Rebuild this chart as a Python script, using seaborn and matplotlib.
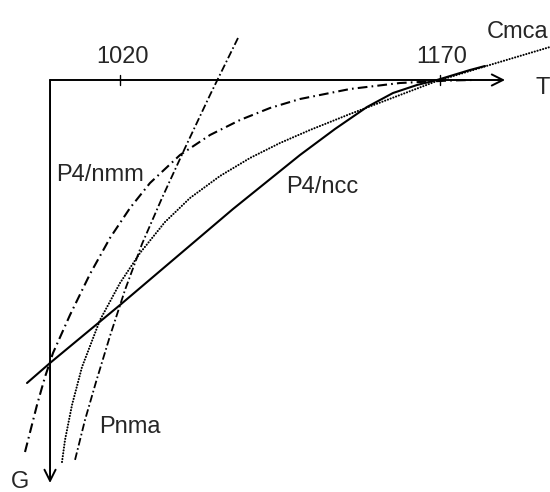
import matplotlib
matplotlib.use("Agg")
import matplotlib.pyplot as plt
import seaborn as sns
import pandas as pd

sns.set_theme(style="white")
plt.rcParams['font.family'] = ['Liberation Sans', 'DejaVu Sans']
plt.rcParams['lines.scale_dashes'] = False

# Schematic G(T) curves (T in K, G in arbitrary units, 0 on the T axis)
ncc_T = [976.41, 987.19, 1020.0, 1072.97, 1104.38, 1120.78, 1135.78, 1147.97, 1159.22,
         1168.59, 1184.06, 1191.09]
ncc_G = [-3.03, -2.83, -2.25, -1.29, -0.75, -0.49, -0.27, -0.13, -0.05, 0.0, 0.10, 0.14]

cmca_T = [992.81, 994.22, 997.5, 1002.19, 1010.63, 1020.0, 1029.38, 1041.09, 1052.81,
          1066.88, 1080.94, 1095.0, 1109.06, 1127.81, 1151.25, 1168.59, 1190.16, 1221.56]
cmca_G = [-3.82, -3.60, -3.25, -2.87, -2.40, -2.03, -1.73, -1.42, -1.18,
          -0.96, -0.78, -0.63, -0.50, -0.34, -0.15, -0.01, 0.13, 0.33]

nmm_T = [975.47, 981.09, 984.84, 988.59, 996.56, 1005.94, 1015.31, 1024.69, 1034.06,
         1048.13, 1062.19, 1076.25, 1090.31, 1104.38, 1127.81, 1151.25, 1174.69, 1185.0]
nmm_G = [-3.72, -3.25, -2.97, -2.73, -2.35, -1.94, -1.58, -1.28, -1.03,
         -0.75, -0.55, -0.40, -0.28, -0.19, -0.09, -0.03, -0.005, 0.0]

pnma_T = [1075.31, 1062.19, 1050.47, 1039.69, 1030.31, 1022.34, 1015.31, 1008.75, 1003.59, 998.91]
pnma_G = [0.42, -0.15, -0.68, -1.18, -1.64, -2.10, -2.56, -3.02, -3.40, -3.80]

tick_T = [1020, 1170]
tick_labels = ["1020", "1170"]

FS = 17

fig = plt.figure(figsize=(5.5, 4.92), dpi=100)
ax = fig.add_axes([0, 0, 1, 1])
ax.set_xlim(963.75, 1221.5625)
ax.set_ylim(-4.12, 0.8)
ax.axis('off')

def draw(T, G, **kw):
    df = pd.DataFrame({"T": T, "G": G})
    sns.lineplot(data=df, x="T", y="G", sort=False, estimator=None, color="black", ax=ax, **kw)

# axes with arrows
ax.annotate("", xy=(1200.5, 0), xytext=(987.2, 0),
            arrowprops=dict(arrowstyle="->", lw=1.4, color="black", shrinkA=0, shrinkB=0,
                            mutation_scale=20))
ax.annotate("", xy=(987.2, -4.03), xytext=(987.2, 0),
            arrowprops=dict(arrowstyle="->", lw=1.4, color="black", shrinkA=0, shrinkB=0,
                            mutation_scale=20))
for t in tick_T:
    ax.plot([t, t], [0.05, -0.05], color="black", lw=1.0)
for t, lab in zip(tick_T, tick_labels):
    ax.text(t + 1, 0.23, lab, ha="center", va="center", fontsize=FS)

draw(ncc_T, ncc_G, linewidth=1.5, linestyle="-")
draw(cmca_T, cmca_G, linewidth=1.5, linestyle=(0, (0.1, 2.0)), dash_capstyle="round")
draw(nmm_T, nmm_G, linewidth=1.5, linestyle=(0, (7, 3, 1.2, 3)))
draw(pnma_T, pnma_G, linewidth=1.3, linestyle=(0, (5.5, 2, 1.2, 2)))

ax.text(1215.0, -0.08, "T", ha="left", va="center", fontsize=FS)
ax.text(969.0, -4.02, "G", ha="left", va="center", fontsize=FS)
ax.text(1192.0, 0.48, "Cmca", ha="left", va="center", fontsize=FS)
ax.text(990.0, -0.95, "P4/nmm", ha="left", va="center", fontsize=FS)
ax.text(1098.0, -1.07, "P4/ncc", ha="left", va="center", fontsize=FS)
ax.text(1010.3, -3.47, "Pnma", ha="left", va="center", fontsize=FS)

fig.savefig("out.png", dpi=100)
